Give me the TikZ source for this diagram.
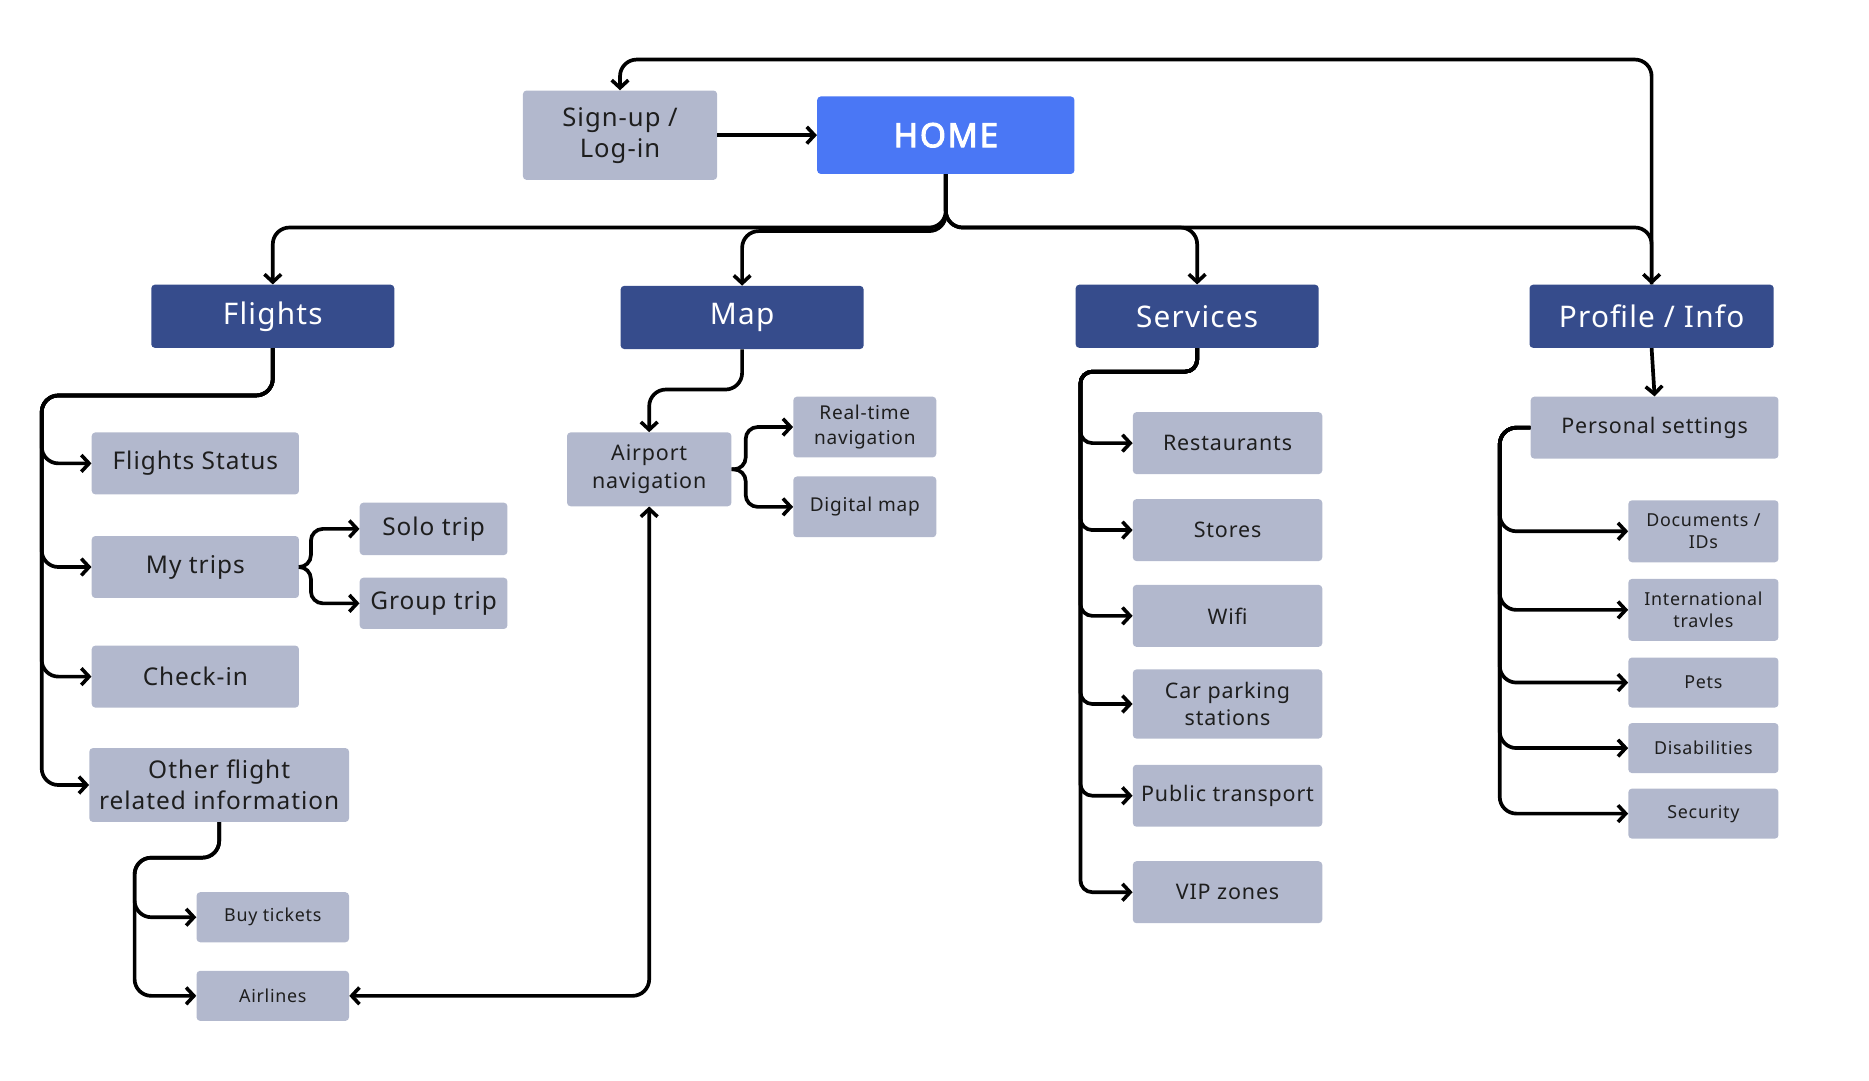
\documentclass[tikz,border=0pt]{standalone}
\usepackage{fontspec}
\setmainfont{Noto Sans}[LetterSpace=4]
\newfontfamily\homefont{Noto Sans}[LetterSpace=5, FakeBold=3]
\usetikzlibrary{arrows.meta}
\definecolor{gfill}{HTML}{B2B8CD}
\definecolor{dfill}{HTML}{364C8C}
\definecolor{hfill}{HTML}{4A77F5}
\definecolor{tcol}{HTML}{1E1E1E}
\tikzset{
  gbox/.style={fill=gfill, rounded corners=3pt, inner sep=0pt, align=center, text=tcol},
  dbox/.style={fill=dfill, rounded corners=3pt, inner sep=0pt, align=center, text=white, font=\fontsize{25}{30}\selectfont},
  hbox/.style={fill=hfill, rounded corners=3pt, inner sep=0pt, align=center, text=white, font=\homefont\fontsize{28}{32}\selectfont},
  conn/.style={line width=3.1pt, black, rounded corners=14pt},
  tip/.style={},
  arr/.style={conn, -{Straight Barb[length=6.5pt,width=14pt,line width=3pt]}},
  arrb/.style={conn, {Straight Barb[length=6.5pt,width=14pt,line width=3pt]}-{Straight Barb[length=6.5pt,width=14pt,line width=3pt]}},
  large/.style={font=\fontsize{20.5}{26}\selectfont},
  mid/.style={font=\fontsize{18}{23}\selectfont},
  small/.style={font=\fontsize{16}{21}\selectfont},
  tiny/.style={font=\fontsize{15}{18}\selectfont},
}
\begin{document}
\begin{tikzpicture}[x=1pt,y=-1pt]
\useasboundingbox (0,0) rectangle (1569,907);
% top level
\node[gbox, font=\fontsize{21.5}{26}\selectfont, minimum width=163pt, minimum height=75pt] (signup) at (520.5,113.5) {Sign-up /\\Log-in};
\node[hbox, minimum width=216pt, minimum height=65pt] (home) at (794,113.5) {HOME};
\node[dbox, minimum width=204pt, minimum height=53pt] (flights) at (229,265.5) {Flights};
\node[dbox, minimum width=204pt, minimum height=53pt] (map) at (623,266.5) {Map};
\node[dbox, minimum width=204pt, minimum height=53pt] (services) at (1005,265.5) {Services};
\node[dbox, minimum width=205pt, minimum height=53pt] (profile) at (1386.5,265.5) {Profile / Info};
% flights children
\node[gbox, large, minimum width=174pt, minimum height=52pt] (fstat) at (164,389) {Flights Status};
\node[gbox, large, minimum width=174pt, minimum height=52pt] (mytrips) at (164,476) {My trips};
\node[gbox, large, minimum width=174pt, minimum height=52pt] (checkin) at (164,568) {Check-in};
\node[gbox, large, minimum width=218pt, minimum height=62pt] (other) at (184,659) {Other flight\\related information};
\node[gbox, large, minimum width=124pt, minimum height=44pt] (solo) at (364,444) {Solo trip};
\node[gbox, large, minimum width=124pt, minimum height=43pt] (group) at (364,506.5) {Group trip};
\node[gbox, tiny, minimum width=128pt, minimum height=42pt] (buy) at (229,770) {Buy tickets};
\node[gbox, tiny, minimum width=128pt, minimum height=42pt] (airlines) at (229,836) {Airlines};
% map children
\node[gbox, mid, minimum width=138pt, minimum height=62pt] (airport) at (545,394) {Airport\\navigation};
\node[gbox, small, minimum width=120pt, minimum height=51pt] (realtime) at (726,358.5) {Real-time\\navigation};
\node[gbox, small, minimum width=120pt, minimum height=51pt] (digital) at (726,425.5) {Digital map};
% services children
\node[gbox, mid, minimum width=159pt, minimum height=52pt] (rest) at (1030.5,372) {Restaurants};
\node[gbox, mid, minimum width=159pt, minimum height=52pt] (stores) at (1030.5,445) {Stores};
\node[gbox, mid, minimum width=159pt, minimum height=52pt] (wifi) at (1030.5,517) {Wifi};
\node[gbox, mid, minimum width=159pt, minimum height=58pt] (car) at (1030.5,591) {Car parking\\stations};
\node[gbox, mid, minimum width=159pt, minimum height=52pt] (public) at (1030.5,668) {Public transport};
\node[gbox, mid, minimum width=159pt, minimum height=52pt] (vip) at (1030.5,749) {VIP zones};
% profile children
\node[gbox, mid, minimum width=208pt, minimum height=52pt] (personal) at (1389,359) {Personal settings};
\node[gbox, tiny, minimum width=126pt, minimum height=52pt] (docs) at (1430,446) {Documents /\\IDs};
\node[gbox, tiny, minimum width=126pt, minimum height=52pt] (intl) at (1430,512) {International\\travles};
\node[gbox, tiny, minimum width=126pt, minimum height=42pt] (pets) at (1430,573) {Pets};
\node[gbox, tiny, minimum width=126pt, minimum height=42pt] (dis) at (1430,628) {Disabilities};
\node[gbox, tiny, minimum width=126pt, minimum height=42pt] (sec) at (1430,683) {Security};
% junction coordinates
\coordinate (hj) at (794,191);
\coordinate (hjm) at (794,194);
\coordinate (top) at (1386.5,50);
\coordinate (ft) at (35,332);
\coordinate (ot) at (113,720);
\coordinate (mt) at (261,476);
\coordinate (mp) at (545,327);
\coordinate (at) at (626,394);
\coordinate (st) at (907,312);
\coordinate (pt) at (1259,359);
% connectors
\draw[arr] (signup) -- (home);
\draw[arr] (home.south) -- (hj) -| (flights.north);
\draw[arr] (home.south) -- (hjm) -| (map.north);
\draw[arr] (home.south) -- (hj) -| (services.north);
\draw[arr] (home.south) -- (hj) -| (profile.north);
\draw[arr] (profile.north) -- (top) -| (signup.north);
\foreach \c in {fstat,mytrips,checkin,other}
  \draw[arr] (flights.south) |- (ft) |- (\c.west);
\foreach \c in {solo,group}
  \draw[arr, rounded corners=10pt] (mytrips.east) -- (mt) |- (\c.west);
\foreach \c in {buy,airlines}
  \draw[arr] (other.south) |- (ot) |- (\c.west);
\draw[arr] (map.south) |- (mp) -- (airport.north);
\foreach \c in {realtime,digital}
  \draw[arr, rounded corners=10pt] (airport.east) -- (at) |- (\c.west);
\draw[arrb] (airport.south) |- (airlines.east);
\foreach \c in {rest,stores,wifi,car,public,vip}
  \draw[arr, rounded corners=10pt] (services.south) |- (st) |- (\c.west);
\draw[arr] (profile.south) -- (personal.north);
\foreach \c in {docs,intl,pets,dis,sec}
  \draw[arr] (personal.west) -- (pt) |- (\c.west);
\end{tikzpicture}
\end{document}
